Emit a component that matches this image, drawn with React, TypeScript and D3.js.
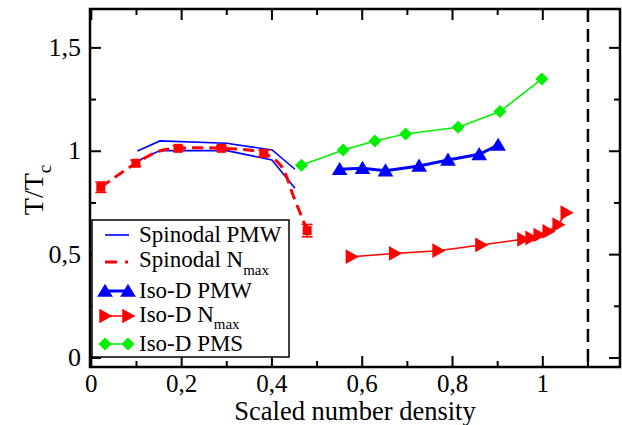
import React from "react";
import * as d3 from "d3";

// ---- data ----
const spinPmwUpperX = [0.102, 0.152, 0.2995, 0.4005, 0.451];
const spinPmwUpperY = [1.0015, 1.05, 1.039, 1.006, 0.913];
const spinPmwLowerX = [0.1, 0.152, 0.3, 0.4, 0.451];
const spinPmwLowerY = [0.95, 1.003, 1.003, 0.958, 0.821];

const spinNmaxX = [0.021, 0.0986, 0.192, 0.288, 0.382, 0.478];
const spinNmaxY = [0.826, 0.942, 1.014, 1.014, 0.99, 0.616];
const spinNmaxErr = [0.025, 0.015, 0.012, 0.012, 0.015, 0.03];
const spinNmaxCurveX = [0.021, 0.0986, 0.15, 0.192, 0.288, 0.382, 0.42, 0.448, 0.478];
const spinNmaxCurveY = [0.826, 0.942, 1.0, 1.014, 1.014, 0.99, 0.93, 0.78, 0.616];

const isoPmwX = [0.55, 0.6006, 0.6515, 0.726, 0.79, 0.859, 0.901];
const isoPmwY = [0.913, 0.918, 0.906, 0.929, 0.958, 0.985, 1.03];

const isoNmaxX = [0.576, 0.672, 0.768, 0.863, 0.956, 0.974, 0.992, 1.012, 1.034, 1.052];
const isoNmaxY = [0.49, 0.506, 0.519, 0.547, 0.574, 0.581, 0.595, 0.612, 0.645, 0.703];

const isoPmsX = [0.4655, 0.558, 0.628, 0.696, 0.8125, 0.905, 0.998];
const isoPmsY = [0.932, 1.006, 1.05, 1.084, 1.116, 1.192, 1.35];

const xMajor = [0, 0.2, 0.4, 0.6, 0.8, 1];
const xMinor = [0.1, 0.3, 0.5, 0.7, 0.9, 1.1];
const xLabels = ["0", "0,2", "0,4", "0,6", "0,8", "1"];
const yMajor = [0, 0.5, 1, 1.5];
const yMinor = [0.25, 0.75, 1.25];
const yLabels = ["0", "0,5", "1", "1,5"];
const densityLimit = 1.1;

const BLUE = "#0000ff";
const RED = "#ff0000";
const GREEN = "#00f000";

const L = 90, R = 620, T = 9, B = 367;
const x = d3.scaleLinear().domain([-0.003, 1.171]).range([L, R]);
const y = d3.scaleLinear().domain([-0.0435, 1.688]).range([B, T]);

const pts = (xs: number[], ys: number[]) => xs.map((v, i) => [v, ys[i]] as [number, number]);
const lineLin = d3.line<[number, number]>().x((d) => x(d[0])).y((d) => y(d[1]));
const lineCurve = d3
  .line<[number, number]>()
  .x((d) => x(d[0]))
  .y((d) => y(d[1]))
  .curve(d3.curveCatmullRom.alpha(0.5));

const triUp = (cx: number, cy: number, s: number) =>
  `M${cx},${cy - s * 0.7}L${cx + s * 0.75},${cy + s * 0.55}L${cx - s * 0.75},${cy + s * 0.55}Z`;
const triRight = (cx: number, cy: number, s: number) =>
  `M${cx + s * 0.7},${cy}L${cx - s * 0.55},${cy - s * 0.7}L${cx - s * 0.55},${cy + s * 0.7}Z`;
const diamond = (cx: number, cy: number, s: number) =>
  `M${cx},${cy - s}L${cx + s},${cy}L${cx},${cy + s}L${cx - s},${cy}Z`;

const FONT = "Liberation Serif, DejaVu Serif, serif";

export default function App() {
  return (
    <svg
      width={622}
      height={425}
      style={{ position: "absolute", left: 0, top: 0, background: "#fff", fontFamily: FONT }}
    >
      <rect x={0} y={0} width={622} height={425} fill="#fff" />
      {/* data lines */}
      <path d={lineLin(pts(spinPmwUpperX, spinPmwUpperY)) || ""} fill="none" stroke={BLUE} strokeWidth={1.6} />
      <path d={lineLin(pts(spinPmwLowerX, spinPmwLowerY)) || ""} fill="none" stroke={BLUE} strokeWidth={1.6} />
      <path
        d={lineCurve(pts(spinNmaxCurveX, spinNmaxCurveY)) || ""}
        fill="none"
        stroke={RED}
        strokeWidth={3}
        strokeDasharray="11,6"
      />
      {spinNmaxX.map((v, i) => {
        const cx = x(v);
        const cy = y(spinNmaxY[i]);
        const e1 = y(spinNmaxY[i] + spinNmaxErr[i]);
        const e2 = y(spinNmaxY[i] - spinNmaxErr[i]);
        return (
          <g key={"sq" + i} stroke={RED} strokeWidth={1.6}>
            <line x1={cx} x2={cx} y1={e1} y2={e2} />
            <line x1={cx - 5.5} x2={cx + 5.5} y1={e1} y2={e1} />
            <line x1={cx - 5.5} x2={cx + 5.5} y1={e2} y2={e2} />
            <rect x={cx - 4.5} y={cy - 4.5} width={9} height={9} fill={RED} stroke="none" />
          </g>
        );
      })}
      <path d={lineLin(pts(isoPmsX, isoPmsY)) || ""} fill="none" stroke={GREEN} strokeWidth={1.5} />
      {isoPmsX.map((v, i) => (
        <path key={"dm" + i} d={diamond(x(v), y(isoPmsY[i]), 6.5)} fill={GREEN} />
      ))}
      <path d={lineLin(pts(isoPmwX, isoPmwY)) || ""} fill="none" stroke={BLUE} strokeWidth={3} />
      {isoPmwX.map((v, i) => (
        <path key={"tu" + i} d={triUp(x(v), y(isoPmwY[i]), 10.5)} fill={BLUE} />
      ))}
      <path d={lineLin(pts(isoNmaxX, isoNmaxY)) || ""} fill="none" stroke={RED} strokeWidth={1.5} />
      {isoNmaxX.map((v, i) => (
        <path key={"tr" + i} d={triRight(x(v), y(isoNmaxY[i]), 10.5)} fill={RED} />
      ))}

      {/* vertical dashed limit */}
      <line
        x1={x(densityLimit)}
        x2={x(densityLimit)}
        y1={T}
        y2={B}
        stroke="#000"
        strokeWidth={2.5}
        strokeDasharray="13,7"
      />

      {/* ticks */}
      <g stroke="#000" strokeWidth={2}>
        {xMajor.map((v) => (
          <g key={"xM" + v}>
            <line x1={x(v)} x2={x(v)} y1={B} y2={B - 11} />
            <line x1={x(v)} x2={x(v)} y1={T} y2={T + 11} />
          </g>
        ))}
        {xMinor.map((v) => (
          <g key={"xm" + v}>
            <line x1={x(v)} x2={x(v)} y1={B} y2={B - 6} />
            <line x1={x(v)} x2={x(v)} y1={T} y2={T + 6} />
          </g>
        ))}
        {yMajor.map((v) => (
          <g key={"yM" + v}>
            <line x1={L} x2={L + 11} y1={y(v)} y2={y(v)} />
            <line x1={R} x2={R - 11} y1={y(v)} y2={y(v)} />
          </g>
        ))}
        {yMinor.map((v) => (
          <g key={"ym" + v}>
            <line x1={L} x2={L + 6} y1={y(v)} y2={y(v)} />
            <line x1={R} x2={R - 6} y1={y(v)} y2={y(v)} />
          </g>
        ))}
      </g>
      <rect x={L} y={T} width={R - L} height={B - T} fill="none" stroke="#000" strokeWidth={2.5} />

      {/* tick labels */}
      {xMajor.map((v, i) => (
        <text key={"xl" + v} x={x(v)} y={392} fontSize={25} textAnchor="middle" fill="#000">
          {xLabels[i]}
        </text>
      ))}
      {yMajor.map((v, i) => (
        <text key={"yl" + v} x={81} y={y(v) + 8} fontSize={26} textAnchor="end" fill="#000">
          {yLabels[i]}
        </text>
      ))}

      {/* axis titles */}
      <text x={(L + R) / 2} y={420} fontSize={26.5} textAnchor="middle" fill="#000">
        Scaled number density
      </text>
      <text transform="translate(43,190) rotate(-90)" fontSize={28} textAnchor="middle" fill="#000">
        T/T
        <tspan fontSize={19} dy={8}>c</tspan>
      </text>

      {/* legend */}
      <g>
        <rect x={92} y={220} width={197} height={137} fill="#fff" stroke="#000" strokeWidth={1.5} />
        <line x1={105} x2={129} y1={235} y2={235} stroke={BLUE} strokeWidth={1.6} />
        <text x={139} y={242} fontSize={23} fill="#000">Spinodal PMW</text>

        <line x1={105} x2={129} y1={262} y2={262} stroke={RED} strokeWidth={3} strokeDasharray="12,8,3,8" />
        <text x={139} y={267} fontSize={23} fill="#000">
          Spinodal N<tspan fontSize={15} dy={8}>max</tspan>
        </text>

        <line x1={105} x2={128} y1={291} y2={291} stroke={BLUE} strokeWidth={3} />
        <path d={triUp(105, 291, 10.5)} fill={BLUE} />
        <path d={triUp(128, 291, 10.5)} fill={BLUE} />
        <text x={139} y={298} fontSize={23} fill="#000">Iso-D PMW</text>

        <line x1={105} x2={128} y1={316} y2={316} stroke={RED} strokeWidth={1.5} />
        <path d={triRight(105, 316, 10.5)} fill={RED} />
        <path d={triRight(128, 316, 10.5)} fill={RED} />
        <text x={139} y={322} fontSize={23} fill="#000">
          Iso-D N<tspan fontSize={15} dy={7}>max</tspan>
        </text>

        <line x1={105} x2={128} y1={344} y2={344} stroke={GREEN} strokeWidth={1.5} />
        <path d={diamond(105, 344, 6.5)} fill={GREEN} />
        <path d={diamond(128, 344, 6.5)} fill={GREEN} />
        <text x={139} y={351} fontSize={23} fill="#000">Iso-D PMS</text>
      </g>
    </svg>
  );
}
